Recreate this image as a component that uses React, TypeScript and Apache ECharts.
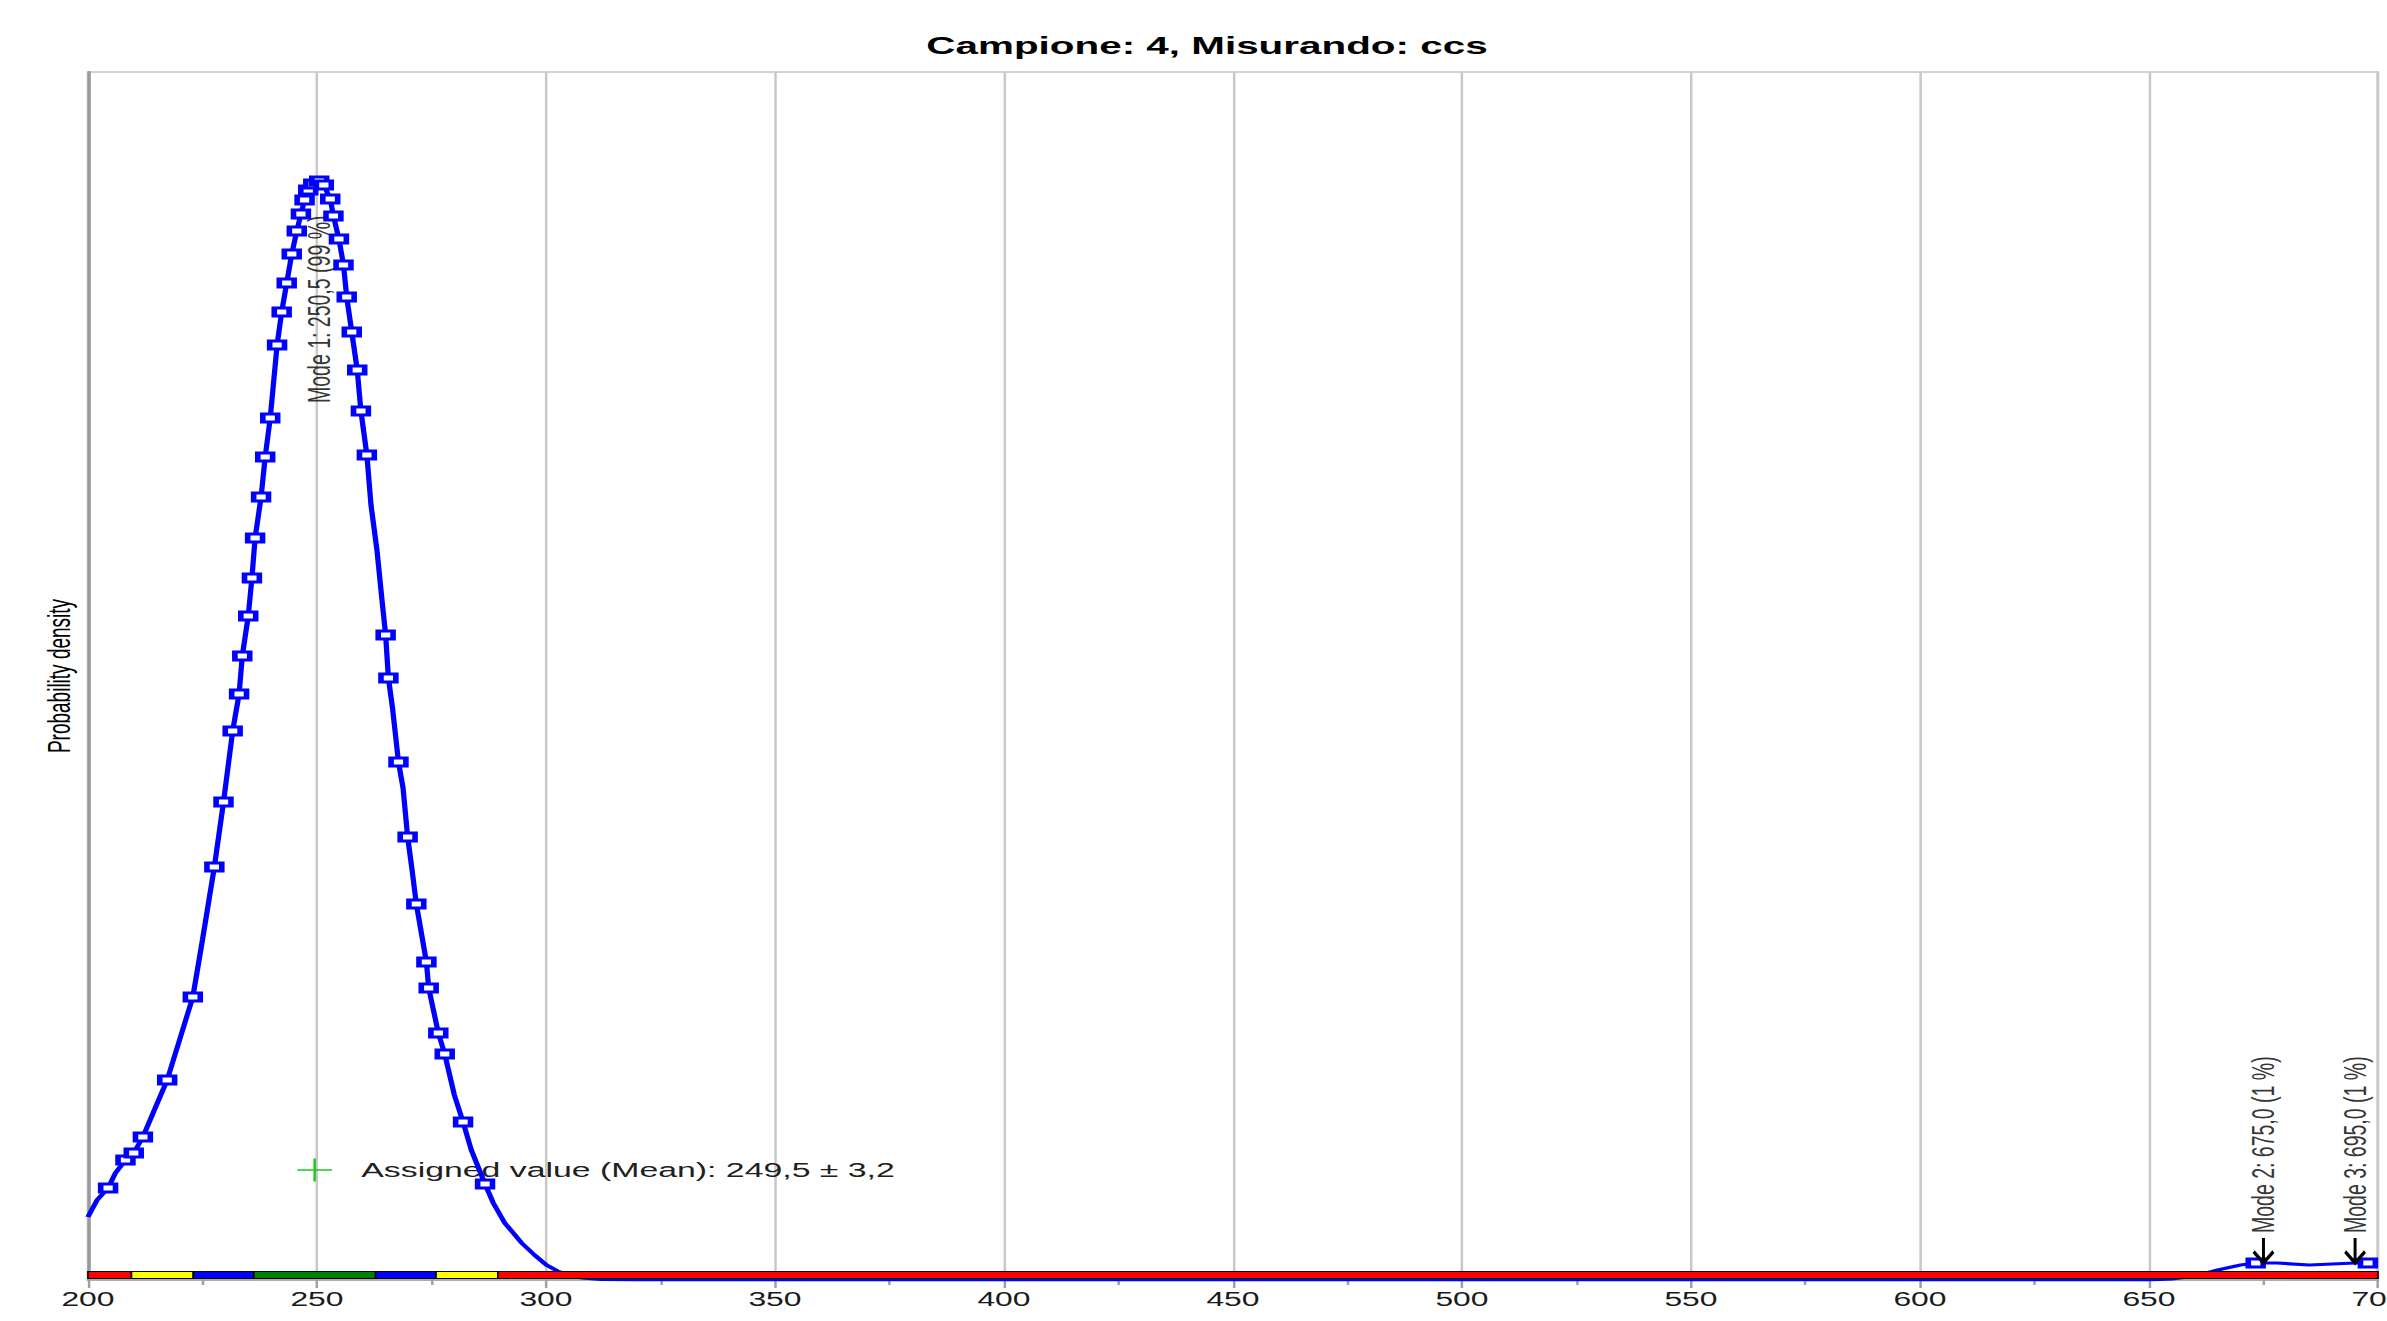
import React, { useEffect, useRef } from "react";
import * as echarts from "echarts";

// ---------------- data ----------------
const titleText = "Campione: 4, Misurando: ccs";
const yAxisTitle = "Probability density";

const xMin = 200;
const xMax = 700;
const xStep = 50;

// kernel density curve (relative units)
const curveX = [
  200, 202, 204.4, 206, 208.2, 210.0, 212.0, 214.5, 217.3, 220,
  222.9, 225, 227.6, 229.6, 231.6, 233.0, 233.7, 235.0, 235.8, 236.5,
  237.8, 238.7, 239.8, 241.3, 242.3, 243.4, 244.5, 245.6, 246.5, 247.3,
  248.1, 249.2, 250.5, 251.5, 252.9, 253.6, 254.8, 255.8, 256.5, 257.6,
  258.8, 259.6, 260.9, 261.8, 263.1, 264.2, 265.0, 265.6, 266.5, 267.8,
  268.8, 269.8, 270.8, 271.7, 273.9, 274.4, 276.5, 277.9, 280, 281.9,
  283.7, 286.7, 288.5, 291, 294.7, 297.5, 300.1, 302.5, 304.9, 308,
  312, 320, 400, 500, 600, 650, 655, 660, 665, 670,
  673.3, 678, 685, 690, 695, 697.8, 700,
];
const curveDensity = [
  63, 80, 92, 107, 120, 127, 143, 170, 200, 240,
  283, 340, 413, 478, 549, 586, 624, 664, 702, 742,
  783, 823, 862, 935, 968, 997, 1026, 1049, 1066, 1080,
  1090, 1096, 1099, 1095, 1081, 1064, 1041, 1015, 983, 948,
  910, 869, 825, 775, 730, 680, 645, 602, 572, 518,
  492, 443, 409, 376, 318, 292, 247, 226, 185, 158,
  130, 96, 77, 57, 37, 25, 15, 9, 5, 2,
  0.5, 0, 0, 0, 0, 0, 1, 4, 10, 15,
  17, 17, 15, 16, 17, 17, 17,
];
const densityMax = 1208;

// participants' results (placed on the curve)
const resultValues = [
  204.4, 208.2, 210.0, 212.0, 217.3, 222.9, 227.6, 229.6, 231.6, 233.0,
  233.7, 235.0, 235.8, 236.5, 237.8, 238.7, 239.8, 241.3, 242.3, 243.4,
  244.5, 245.6, 246.5, 247.3, 248.1, 249.2, 250.5, 251.5, 252.9, 253.6,
  254.8, 255.8, 256.5, 257.6, 258.8, 259.6, 260.9, 265.0, 265.6, 267.8,
  269.8, 271.7, 273.9, 274.4, 276.5, 277.9, 281.9, 286.7, 673.3, 697.8,
];

const modeValues = [250.5, 675.0, 695.0];
const modeShares = [99, 1, 1];

const assignedValue = 249.5;
const assignedUncertainty = 3.2;

const bandEdges = [200, 209.5, 223, 236.2, 262.8, 276, 289.5, 700];
const bandColors = ["#ff0000", "#ffff00", "#0000ff", "#008000", "#0000ff", "#ffff00", "#ff0000"];

// ---------------- helpers ----------------
const FONT = '"Liberation Sans", Arial, Helvetica, sans-serif';
const STRETCH = 1.65;
const CHART_W = 1447;
const CHART_H = 1321;

const fmt = (v: number, d: number) => v.toFixed(d).replace(".", ",");

function densityAt(x: number): number {
  for (let i = 0; i < curveX.length; i++) {
    if (curveX[i] === x) return curveDensity[i];
  }
  for (let i = 0; i < curveX.length - 1; i++) {
    if (x >= curveX[i] && x <= curveX[i + 1]) {
      const t = (x - curveX[i]) / (curveX[i + 1] - curveX[i]);
      return curveDensity[i] + t * (curveDensity[i + 1] - curveDensity[i]);
    }
  }
  return 0;
}

const arrowPath = "path://M6,0 L6,24 M0,13 L6,24 L12,13";
const plusPath = "path://M0,11.5 L21,11.5 M10.5,0 L10.5,23";

export default function App() {
  const ref = useRef<HTMLDivElement>(null);

  useEffect(() => {
    if (!ref.current) return;
    const chart = echarts.init(ref.current, undefined, { renderer: "svg" });

    const option: any = {
      animation: false,
      backgroundColor: "#ffffff",
      textStyle: { fontFamily: FONT },
      grid: {
        left: 53.3,
        right: 5.8,
        top: 72,
        bottom: 41,
        containLabel: false,
        outerBoundsMode: "none",
        show: true,
        borderColor: "#c4c4c4",
        borderWidth: 1.5,
        backgroundColor: "transparent",
      },
      graphic: [
        {
          type: "text",
          x: 731.5,
          y: 46,
          z: 10,
          style: {
            text: titleText,
            font: `bold 24.5px ${FONT}`,
            fill: "#000000",
            textAlign: "center",
            textVerticalAlign: "middle",
            align: "center",
            verticalAlign: "middle",
          },
        },
      ],
      xAxis: {
        type: "value",
        min: xMin,
        max: xMax,
        interval: xStep,
        axisLine: { show: true, lineStyle: { color: "#a0a0a0", width: 1.5 } },
        axisTick: { show: true, length: 8, lineStyle: { color: "#a0a0a0", width: 1.5 } },
        minorTick: { show: true, splitNumber: 2, length: 5, lineStyle: { color: "#a0a0a0", width: 1.5 } },
        splitLine: { show: true, lineStyle: { color: "#c8c8c8", width: 1.5 } },
        axisLabel: { fontSize: 19.3, color: "#1a1a1a", margin: 10, fontFamily: FONT },
      },
      yAxis: {
        type: "value",
        min: 0,
        max: densityMax,
        axisLine: { show: true, lineStyle: { color: "#9a9a9a", width: 2 } },
        axisTick: { show: false },
        axisLabel: { show: false },
        splitLine: { show: false },
        name: yAxisTitle,
        nameLocation: "middle",
        nameGap: 8,
        nameRotate: 90,
        nameTextStyle: { fontSize: 19, color: "#000000", fontFamily: FONT },
      },
      series: [
        {
          name: "assigned",
          type: "scatter",
          z: 1,
          data: [[assignedValue, 110]],
          symbol: plusPath,
          symbolSize: [21, 23],
          itemStyle: { color: "transparent", borderColor: "#1ec81e", borderWidth: 1.6, opacity: 1 },
          label: {
            show: true,
            position: "right",
            distance: 17,
            formatter: `Assigned value (Mean): ${fmt(assignedValue, 1)} ± ${fmt(assignedUncertainty, 1)}`,
            fontSize: 20.5,
            color: "#202020",
            fontFamily: FONT,
          },
          silent: true,
        },
        {
          name: "modeLabels",
          type: "scatter",
          z: 1,
          symbol: "circle",
          symbolSize: 0,
          data: modeValues.map((m, i) => {
            const d = densityAt(m);
            const y = d > densityMax / 2 ? d - 222 : d + 30;
            return {
              value: [m, y],
              label: { formatter: `Mode ${i + 1}: ${fmt(m, 1)} (${modeShares[i]} %)` },
            };
          }),
          label: {
            show: true,
            position: "inside",
            rotate: 90,
            align: "left",
            verticalAlign: "middle",
            fontSize: 19.5,
            color: "#000000",
            fontFamily: FONT,
          },
          silent: true,
        },
        {
          name: "density",
          type: "line",
          z: 2,
          data: curveX.map((x, i) => [x, curveDensity[i]]),
          showSymbol: false,
          symbol: "none",
          smooth: false,
          lineStyle: { color: "#0000ff", width: 3.2 },
          silent: true,
        },
        {
          name: "results",
          type: "scatter",
          z: 3,
          data: resultValues.map((x) => [x, densityAt(x)]),
          symbol: "rect",
          symbolSize: [9, 8],
          itemStyle: { color: "#ffffff", borderColor: "#0000ff", borderWidth: 3.2, opacity: 1 },
          silent: true,
        },
        {
          name: "band",
          type: "custom",
          z: 4,
          clip: false,
          silent: true,
          encode: { x: [0, 1], y: 2 },
          data: bandColors.map((c, i) => ({
            value: [bandEdges[i], bandEdges[i + 1], 0],
            itemStyle: { color: c },
          })),
          renderItem: (params: any, api: any) => {
            const a = api.coord([api.value(0), 0]);
            const b = api.coord([api.value(1), 0]);
            return {
              type: "rect",
              shape: { x: a[0], y: a[1] - 8.5, width: b[0] - a[0], height: 7 },
              style: { fill: api.visual("color"), stroke: "#000000", lineWidth: 1 },
            };
          },
        },
        {
          name: "modeArrows",
          type: "scatter",
          z: 5,
          data: modeValues
            .filter((m, i) => modeShares[i] < 50)
            .map((m) => [m, densityAt(m)]),
          symbol: arrowPath,
          symbolSize: [12, 25],
          symbolOffset: [0, "-50%"],
          itemStyle: { color: "transparent", borderColor: "#000000", borderWidth: 2.6, opacity: 1 },
          silent: true,
        },
      ],
    };

    chart.setOption(option);
    return () => chart.dispose();
  }, []);

  return (
    <div
      style={{
        position: "absolute",
        left: 0,
        top: 0,
        width: 2387,
        height: 1321,
        overflow: "hidden",
        background: "#ffffff",
      }}
    >
      <div
        ref={ref}
        style={{
          position: "absolute",
          left: 0,
          top: 0,
          width: CHART_W,
          height: CHART_H,
          transform: `scaleX(${STRETCH})`,
          transformOrigin: "0 0",
        }}
      />
    </div>
  );
}
